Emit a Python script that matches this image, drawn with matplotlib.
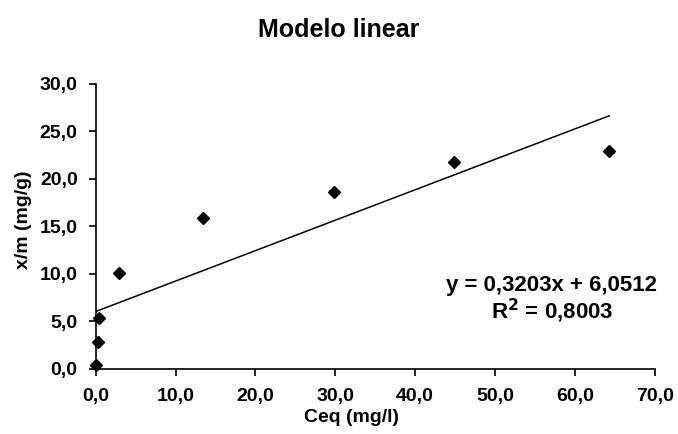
import matplotlib.pyplot as plt
import numpy as np

plt.rcParams['font.family'] = ['Liberation Sans', 'DejaVu Sans']
plt.rcParams['font.weight'] = 'bold'

# data
ceq = [0.0, 0.25, 0.45, 2.9, 13.4, 29.8, 44.9, 64.3]
xm = [0.45, 2.8, 5.4, 10.15, 15.9, 18.6, 21.75, 22.95]
slope = 0.3203
intercept = 6.0512
r2 = 0.8003

x_ticks = np.arange(0, 71, 10)
y_ticks = np.arange(0, 31, 5)

fig = plt.figure(figsize=(6.78, 4.34), dpi=100)
ax = fig.add_axes([0.1412, 0.1498, 0.8244, 0.6567])

# trend line over data range
xl = np.array([0, max(ceq)])
ax.plot(xl, slope * xl + intercept, color='black', lw=1.1)
ax.plot(ceq, xm, 'D', color='black', ms=6, clip_on=False)

ax.set_xlim(0, 70)
ax.set_ylim(0, 30)
ax.set_xticks(x_ticks)
ax.set_yticks(y_ticks)
ax.set_xticklabels([('%.1f' % v).replace('.', ',') for v in x_ticks])
ax.set_yticklabels([('%.1f' % v).replace('.', ',') for v in y_ticks])
ax.tick_params(direction='out', length=5, width=1.2, labelsize=14, pad=8)
ax.tick_params(axis='x', pad=9)
for s in ['top', 'right']:
    ax.spines[s].set_visible(False)
for s in ['left', 'bottom']:
    ax.spines[s].set_linewidth(1.2)

# axis labels and title
fig.text(352 / 678, 1 - 418 / 434, 'Ceq (mg/l)', ha='center', va='center', fontsize=14, fontweight='bold')
fig.text(24 / 678, 1 - 220 / 434, 'x/m (mg/g)', ha='center', va='center', rotation=90,
         fontsize=14, fontweight='bold')
fig.text(0.5, 1 - 30 / 434, 'Modelo linear', ha='center', va='center', fontsize=18, fontweight='bold')

eq = 'y = ' + ('%.4f' % slope).replace('.', ',') + 'x + ' + ('%.4f' % intercept).replace('.', ',')
fig.text(552 / 678, 1 - 285 / 434, eq, ha='center', va='center', fontsize=16, fontweight='bold')
fig.text(552 / 678, 1 - 311 / 434, r'R$^{\mathbf{2}}$ = ' + ('%.4f' % r2).replace('.', ','),
         ha='center', va='center', fontsize=16, fontweight='bold')

fig.savefig('out.png', dpi=100)
